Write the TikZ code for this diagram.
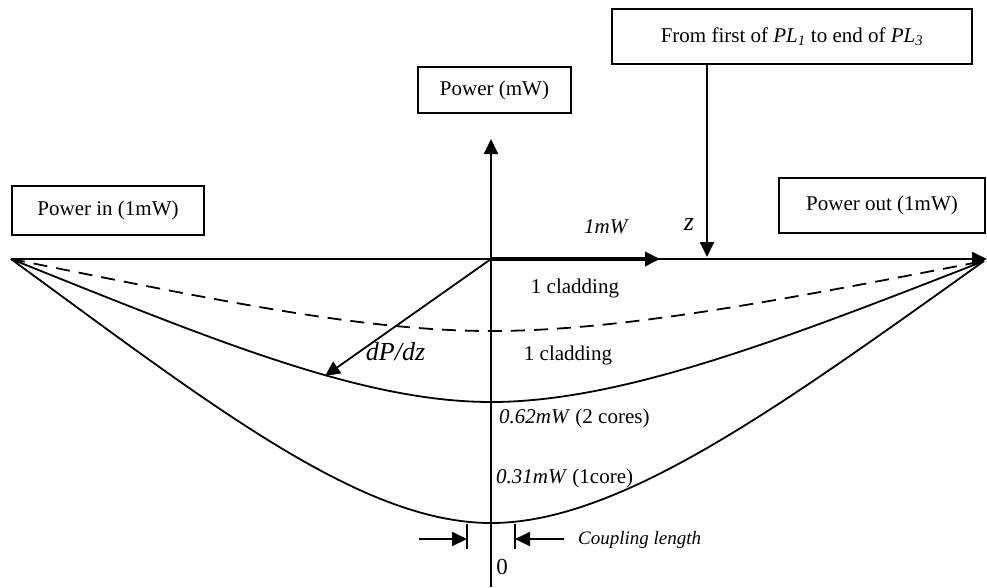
\documentclass[tikz,border=0pt]{standalone}
\usepackage{fontspec}
\setmainfont{Liberation Serif}
\usetikzlibrary{arrows.meta}
\tikzset{
  box/.style={draw, line width=1.8pt, inner sep=0pt, font=\fontsize{21}{25}\selectfont},
  lbl/.style={inner sep=0pt, font=\fontsize{21}{25}\selectfont},
  ln/.style={line width=1.8pt},
  tip/.style={-{Triangle[length=15pt,width=14pt]}},
  curve/.style={line width=1.8pt},
  dashcurve/.style={line width=1.8pt, dash pattern=on 14pt off 9pt}
}
\begin{document}
\begin{tikzpicture}[x=1pt,y=-1pt]
\useasboundingbox (0,0) rectangle (987,587);
% coordinates
\coordinate (L) at (11,259);
\coordinate (R) at (984,261);
\coordinate (O) at (491,259);
\coordinate (AxE) at (987,259);
\coordinate (AxTop) at (491,139);
\coordinate (AxBot) at (491,587);
\coordinate (OneTip) at (660,259);
\coordinate (zTip) at (707,257);
\coordinate (dTip) at (325,376);
\coordinate (BarL1) at (467,524);
\coordinate (BarL2) at (467,549);
\coordinate (BarR1) at (515,524);
\coordinate (BarR2) at (515,549);
\coordinate (ArL0) at (419,539);
\coordinate (ArL1) at (467,539);
\coordinate (ArR0) at (564,539);
\coordinate (ArR1) at (515,539);
% boxes
\node[box, minimum width=192pt, minimum height=49pt] (pin) at (108,210.5) {Power in (1mW)};
\node[box, minimum width=153pt, minimum height=46pt] (pmw) at (494.5,90) {Power (mW)};
\node[box, minimum width=360pt, minimum height=55pt] (from) at (792,36.5) {From first of \textit{PL}\textsubscript{\textit{1}} to end of \textit{PL}\textsubscript{\textit{3}}};
\node[box, minimum width=206pt, minimum height=55pt] (pout) at (882,205.5) {Power out (1mW)};
% axes
\draw[ln, tip] (L) -- (AxE);
\draw[ln, tip] (AxBot) -- (AxTop);
\draw[line width=3.5pt, tip] (O) -- (OneTip);
\draw[ln, tip] (from.south -| zTip) -- (zTip);
\draw[ln, tip] (O) -- (dTip);
% curves
\draw[dashcurve] (L) .. controls (211,299) and (361,331) .. (491,331) .. controls (621,331) and (782,300) .. (R);
\draw[curve] (L) .. controls (211,339) and (361,402) .. (491,402) .. controls (621,402) and (782,340) .. (R);
\draw[curve] (L) .. controls (211,405) and (361,523) .. (491,523) .. controls (621,523) and (782,405) .. (R);
% coupling length
\draw[ln] (BarL1) -- (BarL2);
\draw[ln] (BarR1) -- (BarR2);
\draw[ln, tip] (ArL0) -- (ArL1);
\draw[ln, tip] (ArR0) -- (ArR1);
% labels
\node[lbl] (onemw) at (606.5,227) {\textit{1mW}};
\node[lbl, font=\fontsize{26}{30}\selectfont] (zl) at (689,225) {\textit{z}};
\node[lbl, font=\fontsize{26}{30}\selectfont] (dpdz) at (395.5,352) {\textit{dP/dz}};
\node[lbl] (clad1) at (575,288) {1 cladding};
\node[lbl] (clad2) at (568,355) {1 cladding};
\node[lbl, anchor=west] (c2) at (499,418) {\textit{0.62mW} (2 cores)};
\node[lbl, anchor=west] (c1) at (496,478) {\textit{0.31mW} (1core)};
\node[lbl, font=\fontsize{23}{27}\selectfont] (zero) at (502,567) {0};
\node[lbl, anchor=west, font=\fontsize{19}{23}\selectfont] (coup) at (578,540) {\textit{Coupling length}};
\end{tikzpicture}
\end{document}
